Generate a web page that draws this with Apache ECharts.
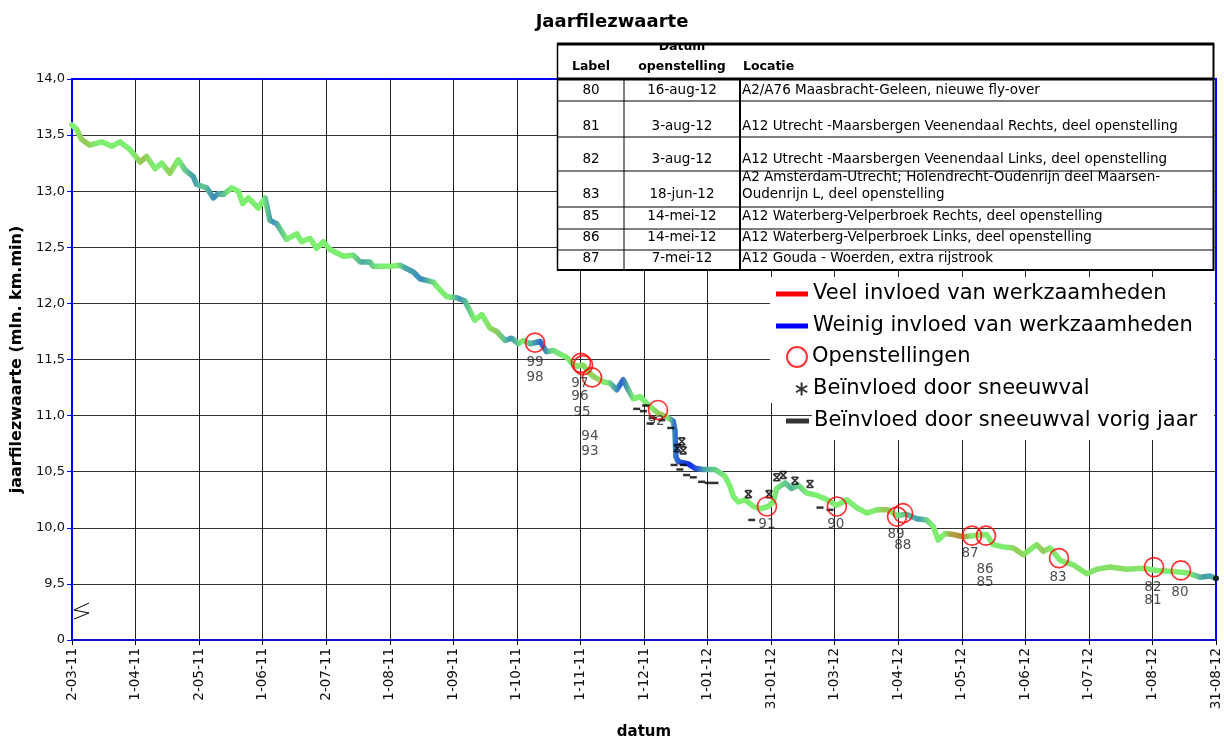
<!DOCTYPE html>
<html>
<head>
<meta charset="utf-8">
<title>Jaarfilezwaarte</title>
<script src="https://cdn.jsdelivr.net/npm/echarts@6/dist/echarts.min.js"></script>
<style>
  html, body { margin: 0; padding: 0; background: #fff; }
  #main { width: 1224px; height: 740px; }
</style>
</head>
<body>
<div id="main"></div>
<script>
// x-waarden zijn dagen sinds 2-03-11
var tickLabels = ['2-03-11', '1-04-11', '2-05-11', '1-06-11', '2-07-11', '1-08-11', '1-09-11', '1-10-11',
  '1-11-11', '1-12-11', '1-01-12', '31-01-12', '1-03-12', '1-04-12', '1-05-12', '1-06-12', '1-07-12',
  '1-08-12', '31-08-12'];
var totalDays = 548;

var lineDays = [0, 2.3, 4.6, 8.6, 14.2, 19.0, 23.0, 27.8, 32.6, 35.8, 39.8, 43.0, 46.9, 50.9, 54.1, 58.1,
  59.7, 64.5, 67.7, 70.1, 72.5, 76.5, 79.7, 81.8, 84.5, 89.2, 92.5, 94.8, 98.1, 102.8, 107.6, 110.0,
  114.0, 117.2, 120.4, 123.6, 130.0, 134.7, 138.0, 142.7, 144.3, 152.3, 157.1, 163.5, 166.7, 173.1,
  176.3, 179.5, 184.3, 188.3, 191.5, 193.0, 196.3, 200.2, 203.4, 207.4, 210.6, 213.8, 216.2, 219.4,
  224.2, 227.4, 230.6, 234.6, 237.0, 239.4, 241.8, 244.9, 247.3, 249.7, 254.5, 257.7, 260.9, 264.1,
  266.5, 268.9, 272.1, 276.9, 280.8, 284.9, 288.0, 288.8, 289.3, 290.4, 295.2, 298.4, 302.4, 308.0,
  310.4, 312.8, 315.2, 316.8, 319.2, 322.4, 326.4, 329.6, 333.5, 335.9, 337.5, 341.5, 344.7, 347.9,
  351.9, 356.7, 360.7, 366.3, 371.1, 375.9, 380.7, 385.5, 391.0, 395.0, 399.8, 404.6, 409.4, 412.6,
  414.9, 418.2, 422.1, 426.9, 431.7, 438.1, 441.3, 446.1, 450.9, 455.7, 462.1, 465.3, 468.5, 473.3,
  479.6, 486.1, 490.9, 497.2, 505.2, 513.2, 519.6, 527.5, 533.9, 540.3, 545.1, 548];
var lineValues = [13.59, 13.55, 13.46, 13.41, 13.44, 13.40, 13.44, 13.37, 13.26, 13.31, 13.20, 13.25,
  13.16, 13.28, 13.19, 13.13, 13.06, 13.03, 12.94, 12.98, 12.97, 13.03, 13.00, 12.89, 12.94, 12.85,
  12.94, 12.74, 12.71, 12.57, 12.62, 12.55, 12.58, 12.49, 12.55, 12.48, 12.42, 12.43, 12.37, 12.37,
  12.33, 12.33, 12.34, 12.28, 12.22, 12.19, 12.12, 12.06, 12.05, 12.02, 11.90, 11.85, 11.90, 11.78,
  11.75, 11.67, 11.69, 11.64, 11.67, 11.64, 11.66, 11.57, 11.58, 11.54, 11.52, 11.47, 11.44, 11.45,
  11.39, 11.35, 11.30, 11.29, 11.23, 11.32, 11.23, 11.15, 11.17, 11.08, 11.02, 10.99, 10.95, 10.87,
  10.63, 10.59, 10.57, 10.53, 10.52, 10.52, 10.49, 10.46, 10.37, 10.28, 10.23, 10.25, 10.19, 10.17,
  10.19, 10.23, 10.35, 10.40, 10.35, 10.38, 10.31, 10.29, 10.26, 10.20, 10.25, 10.18, 10.13, 10.16,
  10.16, 10.11, 10.12, 10.08, 10.07, 10.01, 9.89, 9.95, 9.94, 9.92, 9.93, 9.94, 9.85, 9.83, 9.82,
  9.76, 9.85, 9.79, 9.82, 9.71, 9.67, 9.59, 9.63, 9.65, 9.63, 9.64, 9.62, 9.61, 9.60, 9.56, 9.57, 9.55];

// invloed van werkzaamheden: -1 weinig (blauw), 0 neutraal, +1 veel (rood)
var influenceDays = [0, 3, 7, 13, 30, 35, 40, 45, 47.5, 52, 59, 64, 69, 77, 92, 97, 104, 134, 140, 148,
  156, 160, 168, 175, 181, 186, 193, 198, 203, 207, 210, 216, 221, 225, 230, 236, 251, 256, 260, 263,
  269, 277, 282, 285.5, 288, 291, 296, 299, 303, 307, 313, 336, 344, 352, 384, 389, 393, 400, 405, 411,
  417, 420, 426, 430, 447, 452, 459, 464, 468, 490, 502, 516, 534, 541, 548];
var influenceLevels = [0, 0, 0.35, 0, 0, 0.35, 0, 0, 0.3, 0, -0.45, -0.2, -0.55, 0, 0, -0.5, 0, 0, -0.4, 0,
  0, -0.4, -0.55, 0, 0, -0.5, 0, 0, 0.3, -0.2, -0.5, 0, -0.4, -0.75, -0.1, 0, 0.25, 0, -0.4, -0.75,
  0, 0, 0.35, 0.1, -0.6, -0.8, -1, -0.8, -0.4, -0.2, 0, 0, -0.3, 0, 0, 0.35, 0, -0.3, -0.45, 0,
  0, 0.55, 0.65, 0, 0, 0.3, 0, 0.3, 0, 0.1, 0.15, 0, 0, -0.45, -0.3];

// openstellingen (rode cirkels)
var openDays = [221.8, 243.8, 244.8, 249.1, 280.7, 332.9, 366.4, 395.2, 398.1, 431.1, 437.8, 472.8, 518.3, 531.2];
var openValues = [11.65, 11.47, 11.45, 11.34, 11.05, 10.19, 10.19, 10.10, 10.13, 9.93, 9.93, 9.73, 9.65, 9.62];

var openLabelTexts = ['99', '98', '97', '96', '95', '94', '93', '92', '91', '90', '89', '88', '87', '86', '85', '83', '82', '81', '80'];
var openLabelDays = [221.8, 221.8, 243.3, 243.3, 244.3, 248.1, 248.1, 279.8, 332.9, 365.9, 394.7, 398.0,
  430.2, 437.4, 437.4, 472.3, 517.8, 517.8, 530.7];
var openLabelValues = [11.47, 11.34, 11.29, 11.17, 11.03, 10.81, 10.68, 10.95, 10.03, 10.03, 9.94, 9.84,
  9.77, 9.63, 9.51, 9.56, 9.47, 9.35, 9.42];

// beinvloed door sneeuwval
var snowDays = [292.1, 290.0, 292.8, 324.0, 333.9, 337.6, 340.7, 346.3, 353.5];
var snowValues = [10.77, 10.71, 10.69, 10.30, 10.30, 10.45, 10.47, 10.42, 10.39];

// beinvloed door sneeuwval vorig jaar
var snowPrevDays = [270.5, 273.7, 274.8, 276.9, 278.5, 282.5, 286.8, 288.4, 292.8, 291.2, 294.4, 297.6,
  301.6, 304.8, 308.0, 325.6, 358.3, 363.1];
var snowPrevValues = [11.06, 11.04, 11.09, 10.93, 10.98, 10.96, 10.89, 10.56, 10.56, 10.52, 10.47, 10.45,
  10.41, 10.40, 10.40, 10.07, 10.18, 10.16];

var yMin = 9, yMax = 14, yStep = 0.5;

var tableHeader = ['Label', 'Datum\nopenstelling', 'Locatie'];
var tableLabels = ['80', '81', '82', '83', '85', '86', '87'];
var tableDates = ['16-aug-12', '3-aug-12', '3-aug-12', '18-jun-12', '14-mei-12', '14-mei-12', '7-mei-12'];
var tableLocations = [
  'A2/A76 Maasbracht-Geleen, nieuwe fly-over',
  'A12 Utrecht -Maarsbergen Veenendaal Rechts, deel openstelling',
  'A12 Utrecht -Maarsbergen Veenendaal Links, deel openstelling',
  'A2 Amsterdam-Utrecht; Holendrecht-Oudenrijn deel Maarsen-\nOudenrijn L, deel openstelling',
  'A12 Waterberg-Velperbroek Rechts, deel openstelling',
  'A12 Waterberg-Velperbroek Links, deel openstelling',
  'A12 Gouda - Woerden, extra rijstrook'
];

var names = {
  veel: 'Veel invloed van werkzaamheden',
  weinig: 'Weinig invloed van werkzaamheden',
  open: 'Openstellingen',
  snow: 'Beïnvloed door sneeuwval',
  snowPrev: 'Beïnvloed door sneeuwval vorig jaar'
};

var FONT = '"DejaVu Sans", Verdana, sans-serif';
var myChart = echarts.init(document.getElementById('main'));

var stepDays = totalDays / (tickLabels.length - 1);
function toX(d) { return d / stepDays; }
function pairs(days, vals) {
  return days.map(function (d, i) { return [toX(d), vals[i]]; });
}

var ramp = [[-1, [20, 45, 235]], [-0.5, [62, 148, 182]], [0, [125, 238, 112]], [0.5, [166, 180, 72]], [1, [230, 30, 20]]];
function levelColor(l) {
  for (var i = 1; i < ramp.length; i++) {
    if (l <= ramp[i][0]) {
      var a = ramp[i - 1], b = ramp[i], t = (l - a[0]) / (b[0] - a[0]);
      var c = a[1].map(function (v, k) { return Math.round(v + (b[1][k] - v) * t); });
      return 'rgb(' + c.join(',') + ')';
    }
  }
  return 'rgb(' + ramp[ramp.length - 1][1].join(',') + ')';
}
var lineGradient = new echarts.graphic.LinearGradient(0, 0, 1, 0,
  influenceDays.map(function (d, i) {
    return { offset: d / totalDays, color: levelColor(influenceLevels[i]) };
  }));

// tabel met openstellingen (rechtsboven)
var colEdges = [557, 624, 740, 1214];
var rowEdges = [79, 101, 137, 171, 207, 229, 250, 270];
var rowTextY = [90, 126, 159, 194, 216, 237, 258];
var tableEls = [];
tableEls.push({ type: 'rect', z: 10, shape: { x: 557, y: 44, width: 657, height: 226 }, style: { fill: '#fff' } });
function txt(x, y, s, align, bold) {
  return {
    type: 'text', z: 11, x: x, y: y,
    style: {
      text: s, fill: '#000', fontSize: bold ? 12.5 : 13.5, fontFamily: FONT, fontWeight: bold ? 'bold' : 'normal',
      align: align, verticalAlign: 'bottom', lineHeight: bold ? 20 : 17
    }
  };
}
function ln(x1, y1, x2, y2, w) {
  return { type: 'line', z: 12, shape: { x1: x1, y1: y1, x2: x2, y2: y2 }, style: { stroke: '#000', lineWidth: w } };
}
tableEls.push(txt(591, 77, tableHeader[0], 'center', true));
tableEls.push(txt(682, 77, tableHeader[1], 'center', true));
tableEls.push(txt(743, 77, tableHeader[2], 'left', true));
tableLabels.forEach(function (lab, i) {
  var yb = rowTextY[i] + 8.5;
  tableEls.push(txt(591, yb, lab, 'center', false));
  tableEls.push(txt(682, yb, tableDates[i], 'center', false));
  tableEls.push(txt(742, yb, tableLocations[i], 'left', false));
});
tableEls.push({ type: 'rect', z: 12, shape: { x: 557, y: 30, width: 657, height: 13 }, style: { fill: '#fff' } });
tableEls.push(ln(557, 44, 1214, 44, 3));
tableEls.push(ln(557, 79, 1214, 79, 3));
rowEdges.slice(1).forEach(function (y, i) {
  tableEls.push(ln(557, y, 1214, y, i === rowEdges.length - 2 ? 2 : 1));
});
tableEls.push(ln(557.5, 43, 557.5, 270, 1.5));
tableEls.push(ln(colEdges[1], 80, colEdges[1], 270, 1));
tableEls.push(ln(colEdges[2], 80, colEdges[2], 270, 2));
tableEls.push(ln(1213.5, 43, 1213.5, 271, 2));

var legendText = { fontSize: 21, fontFamily: FONT, color: '#000', lineHeight: 24 };
function legendAt(name, icon, left, top, w, h) {
  return {
    data: [{ name: name, icon: icon }], left: left, top: top, padding: 0,
    itemWidth: w, itemHeight: h, itemGap: 0, selectedMode: false, z: 20,
    textStyle: legendText
  };
}

var option = {
  animation: false,
  backgroundColor: '#fff',
  textStyle: { fontFamily: FONT },
  title: {
    text: 'Jaarfilezwaarte', left: 'center', top: 8,
    textStyle: { fontSize: 18, fontWeight: 'bold', color: '#000', fontFamily: FONT }
  },
  grid: {
    left: 72, right: 8, top: 79, bottom: 100,
    outerBoundsMode: 'none', containLabel: false,
    show: true, borderColor: '#0000ff', borderWidth: 2, backgroundColor: 'transparent'
  },
  legend: [
    legendAt(names.veel, 'rect', 776, 282, 32, 5),
    legendAt(names.weinig, 'rect', 776, 314, 32, 5),
    legendAt(names.open, 'circle', 786, 345, 20, 20),
    legendAt(names.snow, 'path://M5,0L5,10M0.7,2.5L9.3,7.5M0.7,7.5L9.3,2.5', 795, 377, 13, 13),
    legendAt(names.snowPrev, 'rect', 786, 409, 23, 5)
  ],
  xAxis: {
    type: 'value', min: 0, max: tickLabels.length - 1, interval: 1,
    name: 'datum', nameLocation: 'middle', nameGap: 85,
    nameTextStyle: { fontSize: 15, fontWeight: 'bold', color: '#000', fontFamily: FONT },
    axisLine: { show: true, lineStyle: { color: '#1010d0', width: 2 } },
    axisTick: { show: true, length: 5, lineStyle: { color: '#000' } },
    axisLabel: {
      rotate: 90, fontSize: 13.5, color: '#111', margin: 8, fontFamily: FONT,
      formatter: function (v) { return tickLabels[Math.round(v)] || ''; }
    },
    splitLine: { show: true, showMinLine: false, showMaxLine: false, lineStyle: { color: '#222', width: 1 } }
  },
  yAxis: {
    type: 'value', min: yMin, max: yMax, interval: yStep,
    name: 'jaarfilezwaarte (mln. km.min)', nameLocation: 'middle', nameGap: 46,
    nameTextStyle: { fontSize: 16, fontWeight: 'bold', color: '#000', fontFamily: FONT },
    axisLine: { show: true, lineStyle: { color: '#0000ff', width: 2 } },
    axisTick: { show: true, length: 5, lineStyle: { color: '#0000ff' } },
    axisLabel: {
      fontSize: 13, color: '#111', margin: 7, fontFamily: FONT,
      formatter: function (v) { return v === yMin ? '0' : v.toFixed(1).replace('.', ','); }
    },
    splitLine: { show: true, showMinLine: false, showMaxLine: false, lineStyle: { color: '#333', width: 1 } }
  },
  graphic: {
    elements: [
      { type: 'rect', z: 10, silent: true, shape: { x: 770, y: 277, width: 444, height: 126 }, style: { fill: '#fff' } },
      { type: 'rect', z: 10, silent: true, shape: { x: 812, y: 403, width: 402, height: 37 }, style: { fill: '#fff' } },
      {
        type: 'polyline', z: 20, silent: true,
        shape: { points: [[89, 603], [74, 610], [89, 613], [74, 619]] },
        style: { stroke: '#000', lineWidth: 1, fill: null }
      },
      { type: 'group', silent: true, children: tableEls }
    ]
  },
  series: [
    {
      name: 'jaarfilezwaarte', type: 'line', z: 2,
      data: pairs(lineDays, lineValues),
      showSymbol: false, smooth: false,
      lineStyle: { width: 5.5, color: lineGradient, cap: 'round', join: 'round' }
    },
    { name: names.veel, type: 'line', data: [], itemStyle: { color: '#ff0000' } },
    { name: names.weinig, type: 'line', data: [], itemStyle: { color: '#0000ff' } },
    {
      name: names.snowPrev, type: 'scatter', z: 4,
      data: pairs(snowPrevDays, snowPrevValues),
      symbol: 'rect', symbolSize: [7, 2.5],
      itemStyle: { color: '#000' }
    },
    {
      name: names.snow, type: 'scatter', z: 5,
      data: pairs(snowDays, snowValues),
      symbol: 'path://M0,0L10,10M10,0L0,10M1,0L9,0M1,10L9,10', symbolSize: 7,
      itemStyle: { color: '#000', borderColor: '#000', borderWidth: 1.6 }
    },
    {
      name: names.open, type: 'scatter', z: 6,
      data: pairs(openDays, openValues),
      symbol: 'circle', symbolSize: 19,
      itemStyle: { color: 'rgba(255,255,255,0)', borderColor: '#ff0000', borderWidth: 1.7 }
    },
    {
      name: 'labels', type: 'scatter', z: 7, silent: true,
      data: openLabelTexts.map(function (t, i) {
        return { name: t, value: [toX(openLabelDays[i]), openLabelValues[i]] };
      }),
      symbolSize: 1, itemStyle: { color: 'rgba(0,0,0,0)' },
      label: { show: true, position: 'inside', formatter: '{b}', fontSize: 13.5, color: '#222', fontFamily: FONT }
    },
    {
      name: 'einde', type: 'scatter', z: 8, silent: true,
      data: [[toX(lineDays[lineDays.length - 1]), lineValues[lineValues.length - 1]]],
      symbolSize: 6, itemStyle: { color: '#000' }
    }
  ]
};

option && myChart.setOption(option);
</script>
</body>
</html>
